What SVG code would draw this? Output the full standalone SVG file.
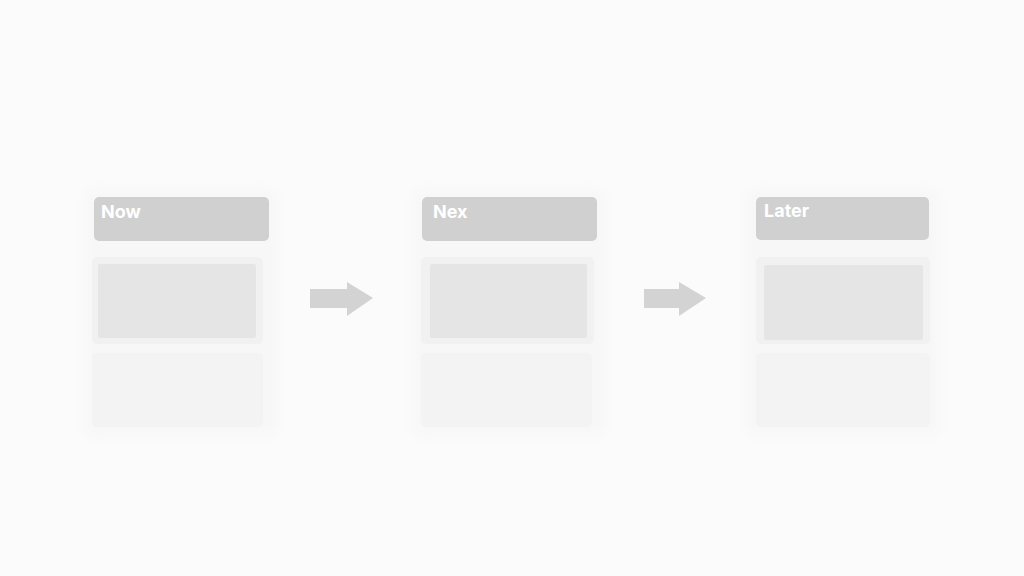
<svg xmlns="http://www.w3.org/2000/svg" width="1024" height="576" viewBox="0 0 1024 576">
<style>
.hdr{fill:#d0d0d0}
.frame{fill:#f1f1f1}
.inner{fill:#e5e5e5}
.card{fill:#f3f3f3}
.title{font-family:"Inter","Liberation Sans",sans-serif;font-weight:700;font-size:18px;fill:#ffffff}
.arrow{fill:#d3d3d3}
</style>
<defs>
<filter id="soft" x="-20%" y="-20%" width="140%" height="140%">
<feGaussianBlur stdDeviation="7"/>
</filter>
</defs>
<rect width="1024" height="576" fill="#fbfbfb"/>
<g id="now">
<rect x="84" y="190" width="194" height="246" rx="10" fill="#f7f7f7" filter="url(#soft)"/>
<rect class="hdr" x="94" y="197" width="175" height="44" rx="5"/>
<text class="title" x="101" y="218">Now</text>
<rect class="frame" x="92" y="257" width="171" height="87" rx="5"/>
<rect class="inner" x="98" y="264" width="158" height="74" rx="2"/>
<rect class="card" x="92" y="353" width="171" height="74" rx="5"/>
</g>
<g id="next">
<rect x="412" y="190" width="194" height="246" rx="10" fill="#f7f7f7" filter="url(#soft)"/>
<rect class="hdr" x="422" y="197" width="175" height="44" rx="5"/>
<text class="title" x="433" y="218">Nex</text>
<rect class="frame" x="421" y="257" width="173" height="87" rx="5"/>
<rect class="inner" x="430" y="264" width="157" height="74" rx="2"/>
<rect class="card" x="421" y="353" width="171" height="74" rx="5"/>
</g>
<g id="later">
<rect x="746" y="190" width="194" height="246" rx="10" fill="#f7f7f7" filter="url(#soft)"/>
<rect class="hdr" x="756" y="197" width="173" height="43" rx="5"/>
<text class="title" x="764" y="217">Later</text>
<rect class="frame" x="756" y="257" width="174" height="87" rx="5"/>
<rect class="inner" x="764" y="265" width="159" height="75" rx="2"/>
<rect class="card" x="756" y="353" width="174" height="74" rx="5"/>
</g>
<g id="connectors">
<polygon class="arrow" points="310,289 347,289 347,282 373,298 347,316 347,308 310,308"/>
<polygon class="arrow" points="644,289 679,289 679,282 706,298 679,316 679,308 644,308"/>
</g>
</svg>
